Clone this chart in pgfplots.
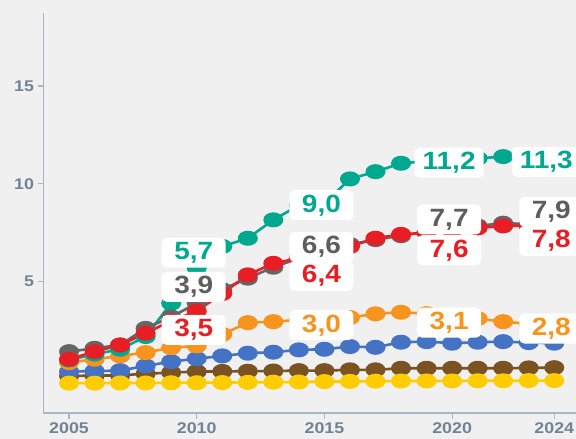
\documentclass[border=0pt]{standalone}
\usepackage{pgfplots}
\pgfplotsset{compat=1.18}
\usepackage{fontspec}
\setmainfont{Liberation Sans}
\newfontfamily\lblfont{Liberation Sans}[FakeStretch=1.12]
\newfontfamily\tickfont{Liberation Sans}[FakeStretch=1.15]

\definecolor{bg}{HTML}{F0F0F0}
\definecolor{axiscol}{HTML}{A6B8C6}
\definecolor{tickcol}{HTML}{718394}
\definecolor{cteal}{HTML}{00A88F}
\definecolor{cgrey}{HTML}{666666}
\definecolor{cgreytxt}{HTML}{5E5E5E}
\definecolor{cred}{HTML}{E81E25}
\definecolor{corange}{HTML}{F7941D}
\definecolor{cblue}{HTML}{4472C4}
\definecolor{cbrown}{HTML}{7B5322}
\definecolor{cyellow}{HTML}{FFCC00}

\pgfplotstableread{
year teal grey red orange blue brown yellow
2005 1.00 1.43 1.04 0.87 0.41 0.19 -0.18
2006 1.30 1.60 1.43 1.04 0.44 0.20 -0.18
2007 1.55 1.77 1.77 1.21 0.46 0.22 -0.17
2008 2.20 2.62 2.37 1.38 0.70 0.30 -0.17
2009 3.90 3.20 3.00 1.63 0.92 0.36 -0.16
2010 5.70 3.90 3.50 1.72 1.07 0.41 -0.16
2011 6.80 4.60 4.40 2.31 1.21 0.42 -0.15
2012 7.22 5.18 5.35 2.91 1.35 0.43 -0.14
2013 8.16 5.74 5.94 2.96 1.40 0.44 -0.13
2014 8.90 6.20 6.20 3.05 1.52 0.46 -0.12
2015 9.00 6.60 6.40 3.00 1.55 0.46 -0.10
2016 10.25 6.90 6.80 3.17 1.69 0.50 -0.09
2017 10.62 7.15 7.22 3.36 1.65 0.50 -0.08
2018 11.05 7.35 7.42 3.44 1.91 0.58 -0.07
2019 11.15 7.55 7.50 3.37 1.94 0.58 -0.07
2020 11.20 7.70 7.60 3.10 1.86 0.58 -0.07
2021 11.30 7.85 7.75 3.12 1.91 0.58 -0.06
2022 11.39 7.99 7.85 2.96 1.94 0.58 -0.06
2023 11.35 7.95 7.85 2.85 1.89 0.60 -0.05
2024 11.30 7.90 7.80 2.80 1.86 0.61 -0.05
}\datatable

\tikzset{lbl/.style={fill=white, rounded corners=5pt, inner xsep=8pt, inner ysep=4pt,
  minimum width=64pt, font=\lblfont\bfseries\fontsize{25}{25}\selectfont,
  text height=18pt, text depth=4pt, xshift=-3pt}}

\begin{document}
\begin{tikzpicture}
\path[use as bounding box, fill=bg] (0,0) rectangle (576pt,439pt);
\begin{axis}[
  at={(43.5pt,25.7pt)}, anchor=south west,
  scale only axis, width=536.3pt, height=400.6pt,
  xmin=2004, xmax=2025, ymin=-1.72, ymax=18.74,
  axis lines*=left,
  axis line style={-, draw=axiscol, line width=1.6pt},
  xtick={2005,2010,2015,2020,2024}, ytick={5,10,15},
  tick align=outside, major tick length=6pt,
  tick style={draw=axiscol, line width=1.2pt},
  xticklabel style={font=\tickfont\bfseries\fontsize{15.5}{16}\selectfont, text=tickcol},
  yticklabel style={font=\tickfont\bfseries\fontsize{15.5}{16}\selectfont, text=tickcol},
  /pgf/number format/assume math mode=true,
  /pgf/number format/1000 sep={},
  clip=false,
  every axis plot/.append style={line width=2.6pt, mark=*, mark size=6.2pt,
     mark options={solid, xscale=1.4, draw=none}},
]
\addplot[cbrown] table[x=year, y=brown] {\datatable};
\addplot[cblue] table[x=year, y=blue] {\datatable};
\addplot[cyellow] table[x=year, y=yellow] {\datatable};
\addplot[corange] table[x=year, y=orange] {\datatable};
\addplot[cteal] table[x=year, y=teal] {\datatable};
\addplot[cgrey] table[x=year, y=grey] {\datatable};
\addplot[cred] table[x=year, y=red] {\datatable};

\coordinate (t1) at (axis cs:2010,6.48);
\coordinate (t2) at (axis cs:2015,8.91);
\coordinate (t3) at (axis cs:2020,11.08);
\coordinate (t4) at (axis cs:2024,11.12);
\coordinate (g1) at (axis cs:2010,4.74);
\coordinate (g2) at (axis cs:2015,6.78);
\coordinate (g3) at (axis cs:2020,8.18);
\coordinate (g4) at (axis cs:2024,8.57);
\coordinate (r1) at (axis cs:2010,2.54);
\coordinate (r2) at (axis cs:2015,5.30);
\coordinate (r3) at (axis cs:2020,6.61);
\coordinate (r4) at (axis cs:2024,7.09);
\coordinate (o2) at (axis cs:2015,2.78);
\coordinate (o3) at (axis cs:2020,2.91);
\coordinate (o4) at (axis cs:2024,2.61);
\end{axis}
\node[lbl, text=cteal] at (t1) {5,7};
\node[lbl, text=cteal] at (t2) {9,0};
\node[lbl, text=cteal] at (t3) {11,2};
\node[lbl, text=cteal, xshift=-5pt] at (t4) {11,3};
\node[lbl, text=cgreytxt] at (g1) {3,9};
\node[lbl, text=cgreytxt] at (g2) {6,6};
\node[lbl, text=cgreytxt] at (g3) {7,7};
\node[lbl, text=cgreytxt] at (g4) {7,9};
\node[lbl, text=cred] at (r1) {3,5};
\node[lbl, text=cred] at (r2) {6,4};
\node[lbl, text=cred] at (r3) {7,6};
\node[lbl, text=cred] at (r4) {7,8};
\node[lbl, text=corange] at (o2) {3,0};
\node[lbl, text=corange] at (o3) {3,1};
\node[lbl, text=corange] at (o4) {2,8};
\end{tikzpicture}
\end{document}
